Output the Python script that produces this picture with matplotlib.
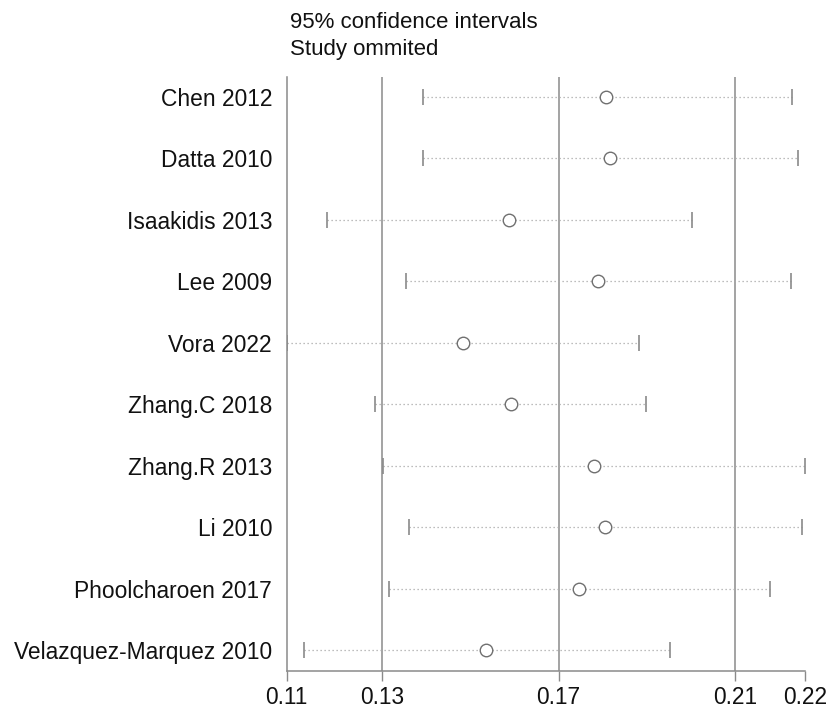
import matplotlib
matplotlib.use("Agg")
import matplotlib.pyplot as plt

# Leave-one-out sensitivity analysis: pooled estimate with each study omitted
studies = [
    "Chen 2012",
    "Datta 2010",
    "Isaakidis 2013",
    "Lee 2009",
    "Vora 2022",
    "Zhang.C 2018",
    "Zhang.R 2013",
    "Li 2010",
    "Phoolcharoen 2017",
    "Velazquez-Marquez 2010",
]
estimates = [0.1807, 0.1817, 0.1588, 0.1789, 0.1483, 0.1591, 0.1780, 0.1806, 0.1746, 0.1535]
lower_ci = [0.1393, 0.1393, 0.1174, 0.1353, 0.1083, 0.1284, 0.1302, 0.1361, 0.1314, 0.1122]
upper_ci = [0.2229, 0.2244, 0.2002, 0.2227, 0.1883, 0.1898, 0.2259, 0.2253, 0.2179, 0.1952]

# Overall pooled estimate and its 95% CI
overall_lower = 0.13
overall_est = 0.17
overall_upper = 0.21

axis_ticks = [min(lower_ci), overall_lower, overall_est, overall_upper, max(upper_ci)]
axis_tick_labels = ["0.11", "0.13", "0.17", "0.21", "0.22"]

plt.rcParams["font.family"] = ["Liberation Sans", "DejaVu Sans"]

fig = plt.figure(figsize=(8.32, 7.09), dpi=100)
ax = fig.add_axes([0.3446, 0.0536, 0.6229, 0.8382])

line_grey = "#8a8a8a"
dot_grey = "#a8a8a8"
text_col = "#111111"

# Reference lines for the overall estimate and CI
for v in (overall_lower, overall_est, overall_upper):
    ax.axvline(v, color=line_grey, lw=1.1, zorder=1)

rows = list(range(1, len(studies) + 1))
for y, lo, est, hi in zip(rows, lower_ci, estimates, upper_ci):
    ax.plot([lo, hi], [y, y], color=dot_grey, lw=0.9,
            linestyle=(0, (1, 2.2)), zorder=2)
    ax.plot([lo, hi], [y, y], linestyle="none", marker="|",
            markersize=12, markeredgewidth=1.2, color=line_grey, zorder=3)
    ax.plot([est], [y], linestyle="none", marker="o", markersize=9,
            markerfacecolor="white", markeredgecolor="#707070",
            markeredgewidth=1.0, zorder=4)

ax.set_xlim(min(lower_ci), max(upper_ci))
ax.set_ylim(10.34, 0.675)

ax.set_yticks(rows)
ax.set_yticklabels(studies, fontsize=16.4, color=text_col)
ax.tick_params(axis="y", length=0, pad=10.5)

ax.set_xticks(axis_ticks)
ax.set_xticklabels(axis_tick_labels, fontsize=16.4, color=text_col)
ax.tick_params(axis="x", direction="out", length=7.5, width=1.0,
               color=line_grey, pad=3)

for side in ("top", "right"):
    ax.spines[side].set_visible(False)
for side in ("left", "bottom"):
    ax.spines[side].set_color(line_grey)
    ax.spines[side].set_linewidth(1.1)

fig.text(0.349, 0.960, "95% confidence intervals", fontsize=16,
         color=text_col, va="baseline", ha="left")
fig.text(0.349, 0.9224, "Study ommited", fontsize=16,
         color=text_col, va="baseline", ha="left")

fig.savefig("out.png", dpi=100, facecolor="white")
